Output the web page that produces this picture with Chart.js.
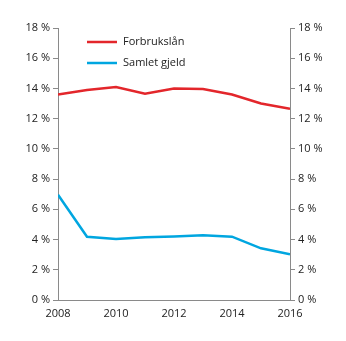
<!DOCTYPE html>
<html lang="no">
<head>
<meta charset="UTF-8">
<title>Forbrukslån og samlet gjeld</title>
<script src="https://cdn.jsdelivr.net/npm/chart.js"></script>
<style>
  html, body { margin: 0; padding: 0; background: #fff; }
  #wrap { width: 346px; height: 341px; }
</style>
</head>
<body>
<div id="wrap"><canvas id="chart" width="346" height="341"></canvas></div>
<script>
// data
const years = [2008, 2009, 2010, 2011, 2012, 2013, 2014, 2015, 2016];
const forbrukslan = [13.6, 13.9, 14.1, 13.65, 14.0, 13.97, 13.6, 13.0, 12.65];
const samletGjeld = [6.97, 4.19, 4.03, 4.15, 4.21, 4.28, 4.19, 3.42, 3.02];
const seriesNames = ['Forbrukslån', 'Samlet gjeld'];
const yTicks = [0, 2, 4, 6, 8, 10, 12, 14, 16, 18];
const xTicks = [2008, 2010, 2012, 2014, 2016];

const red = '#e3262b';
const blue = '#00a6e0';
const axisGrey = '#8a8a8a';
const font = { family: 'Open Sans', size: 11 };

function toPoints(vals) {
    return years.map((y, i) => ({ x: y, y: vals[i] }));
}

// legend drawn inside the plot, line sample + label
const insideLegend = {
    id: 'insideLegend',
    afterDraw(chart) {
        const c = chart.ctx;
        c.save();
        c.font = '11px "Open Sans"';
        c.fillStyle = '#222';
        c.textBaseline = 'middle';
        chart.data.datasets.forEach((ds, i) => {
            const y = 42 + i * 21;
            c.strokeStyle = ds.borderColor;
            c.lineWidth = 2.5;
            c.beginPath();
            c.moveTo(87, y);
            c.lineTo(117, y);
            c.stroke();
            c.fillText(ds.label, 123, y);
        });
        c.restore();
    }
};

const yAxis = (pos) => ({
    position: pos,
    min: 0,
    max: 18,
    afterBuildTicks: (s) => { s.ticks = yTicks.map(v => ({ value: v })); },
    afterFit: (s) => { s.width = pos === 'left' ? 58 : 56; },
    grid: { drawOnChartArea: false, drawTicks: true, tickLength: 5, color: axisGrey },
    border: { color: axisGrey, width: 1 },
    ticks: { color: '#222', font: font, padding: 3, callback: v => v + ' %' }
});

new Chart(document.getElementById('chart'), {
    type: 'line',
    data: {
        datasets: [
            { label: seriesNames[0], data: toPoints(forbrukslan), borderColor: red, borderWidth: 2.5, pointRadius: 0, tension: 0, yAxisID: 'y' },
            { label: seriesNames[1], data: toPoints(samletGjeld), borderColor: blue, borderWidth: 2.5, pointRadius: 0, tension: 0, yAxisID: 'y' }
        ]
    },
    options: {
        responsive: false,
        animation: false,
        layout: { padding: { top: 28, bottom: 0, left: 0, right: 0 } },
        plugins: { legend: { display: false }, tooltip: { enabled: false } },
        scales: {
            x: {
                type: 'linear',
                min: 2008,
                max: 2016,
                afterBuildTicks: (s) => { s.ticks = xTicks.map(v => ({ value: v })); },
                afterFit: (s) => { s.height = 41; },
                grid: { drawOnChartArea: false, drawTicks: false },
                border: { color: axisGrey, width: 1 },
                ticks: { color: '#222', font: font, padding: 7, maxRotation: 0, callback: v => String(v) }
            },
            y: yAxis('left'),
            y2: yAxis('right')
        }
    },
    plugins: [insideLegend]
});
</script>
</body>
</html>
